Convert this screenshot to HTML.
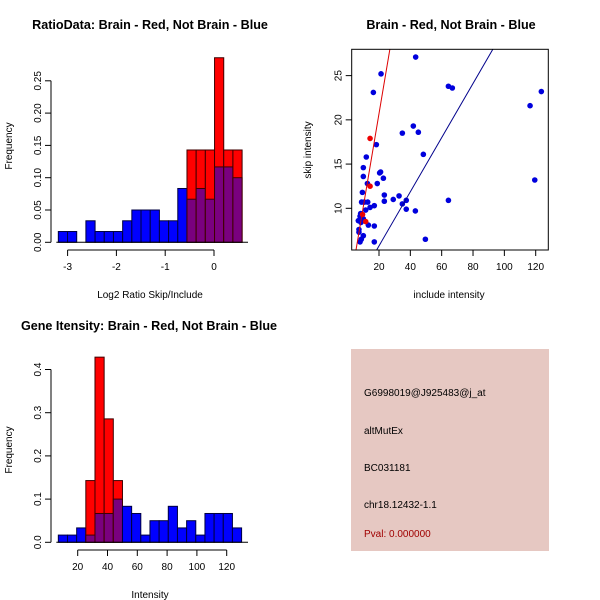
<!DOCTYPE html>
<html><head><meta charset="utf-8"><style>
body{margin:0;background:#fff}
svg{display:block;font-family:"Liberation Sans",sans-serif}
</style></head><body>
<svg id="s" width="600" height="600" viewBox="0 0 600 600">
<rect width="600" height="600" fill="#fff"/>
<text x="150" y="29" font-size="12.6" font-weight="bold" text-anchor="middle">RatioData: Brain - Red, Not Brain - Blue</text>
<text x="451" y="29" font-size="12.6" font-weight="bold" text-anchor="middle">Brain - Red, Not Brain - Blue</text>
<text x="149" y="330" font-size="12.6" font-weight="bold" text-anchor="middle">Gene Itensity: Brain - Red, Not Brain - Blue</text>
<text x="150" y="298" font-size="10" text-anchor="middle">Log2 Ratio Skip/Include</text>
<text x="12" y="146" font-size="10" text-anchor="middle" transform="rotate(-90 12 146)">Frequency</text>
<text x="449" y="298" font-size="10" text-anchor="middle">include intensity</text>
<text x="311" y="150" font-size="10" text-anchor="middle" transform="rotate(-90 311 150)">skip intensity</text>
<text x="150" y="598" font-size="10" text-anchor="middle">Intensity</text>
<text x="12" y="450" font-size="10" text-anchor="middle" transform="rotate(-90 12 450)">Frequency</text>
<rect x="351" y="349" width="198" height="202" fill="#e6c8c2"/>
<g font-size="10">
<text x="364" y="396">G6998019@J925483@j_at</text>
<text x="364" y="434">altMutEx</text>
<text x="364" y="471">BC031181</text>
<text x="364" y="508">chr18.12432-1.1</text>
<text x="364" y="537" fill="#a00000">Pval: 0.000000</text>
</g>
</svg>
<script>
// Ratio histogram data
const ratioStart = -3.19;
const ratioWidth = 0.1883;
const ratioBlue = [0.0167,0.0167,0,0.0333,0.0167,0.0167,0.0167,0.0333,0.05,0.05,0.05,0.0333,0.0333,0.0833,0.0667,0.0833,0.0667,0.1167,0.1167,0.1];
const ratioRed = [0,0,0,0,0,0,0,0,0,0,0,0,0,0,0.1429,0.1429,0.1429,0.2857,0.1429,0.1429];
const ratioXTicks = [-3,-2,-1,0];
const ratioYTicks = ["0.00","0.05","0.10","0.15","0.20","0.25"];
// Intensity histogram data
const intStart = 7;
const intWidth = 6.15;
const intBlue = [0.0167,0.0167,0.0333,0.0167,0.0667,0.0667,0.1,0.0833,0.0667,0.0167,0.05,0.05,0.0833,0.0333,0.05,0.0167,0.0667,0.0667,0.0667,0.0333];
const intRed = [0,0,0,0.1429,0.4286,0.2857,0.1429,0,0,0,0,0,0,0,0,0,0,0,0,0];
const intXTicks = [20,40,60,80,100,120];
const intYTicks = ["0.0","0.1","0.2","0.3","0.4"];
// Scatter data
const blueX = [21.3,43.4,16.4,64.3,66.8,116.4,123.6,41.9,45.1,34.9,18.3,48.3,11.9,10,10,20.4,21,22.8,18.9,12.6,119.4,9.4,23.4,32.8,29.1,37.4,64.3,23.4,34.9,17,14.3,8.9,10.6,12.8,11.5,37.4,43.2,8.3,7.9,10,6.8,8.5,13.2,17,7.2,7.2,10,8.7,7.9,17,49.6];
const blueY = [25.2,27.1,23.1,23.8,23.6,21.6,23.2,19.3,18.6,18.5,17.2,16.1,15.8,14.6,13.6,14,14.1,13.4,12.8,12.8,13.2,11.8,11.5,11.4,11,10.9,10.9,10.8,10.5,10.3,10.1,10.7,10.7,10.7,9.8,9.9,9.7,9.4,9.1,8.8,8.6,8.4,8.1,8,7.6,7.3,6.9,6.5,6.2,6.2,6.5];
const redX = [14.3,14.3,11.5,9.5];
const redY = [17.9,12.5,8.5,9.3];
const redLine = [1.05,-0.3];   // slope, intercept
const blueLine = [0.306,-0.37];
const scXTicks = [20,40,60,80,100,120];
const scYTicks = [10,15,20,25];

const s = document.getElementById('s');
const NS = 'http://www.w3.org/2000/svg';
function el(tag, attrs, parent){const e=document.createElementNS(NS,tag);for(const k in attrs)e.setAttribute(k,attrs[k]);(parent||s).appendChild(e);return e;}

function hist(o){
  const sx=v=>o.x0+(v-o.v0)*o.kx, sy=v=>o.y0-v*o.ky;
  o.red.forEach((r,i)=>{
    const a=o.start+i*o.width,b=a+o.width;
    const bl=o.blue[i];
    if(r>0){
      const e=el('rect',{x:sx(a),y:sy(r),width:sx(b)-sx(a),height:sy(0)-sy(r),fill:'#ff0000',stroke:'#400000','stroke-width':1});
      
      
    }
    if(bl>0){
      const e=el('rect',{x:sx(a),y:sy(bl),width:sx(b)-sx(a),height:sy(0)-sy(bl),fill:r>0?'#7a007f':'#0000ff',stroke:r>0?'#400000':'#000040','stroke-width':1});
      
      
    }
  });
  const ya=el('line',{x1:o.axX,x2:o.axX,y1:sy(0),y2:sy(parseFloat(o.yTicks[o.yTicks.length-1])),stroke:'#000'});
  
  
  o.yTicks.forEach(t=>{const y=sy(parseFloat(t));el('line',{x1:o.axX-6,x2:o.axX,y1:y,y2:y,stroke:'#000'});
    const tx=el('text',{x:o.axX-10,y:y,'font-size':10,'text-anchor':'middle',transform:`rotate(-90 ${o.axX-10} ${y})`});tx.textContent=t;
    
    });
  const xa=el('line',{x1:sx(o.xTicks[0]),x2:sx(o.xTicks[o.xTicks.length-1]),y1:o.axY,y2:o.axY,stroke:'#000'});
  
  
  o.xTicks.forEach(t=>{const x=sx(t);el('line',{x1:x,x2:x,y1:o.axY,y2:o.axY+6,stroke:'#000'});
    const tx=el('text',{x:x,y:o.axY+20,'font-size':10,'text-anchor':'middle'});tx.textContent=t;
    
    });
  el('line',{x1:sx(o.start)-2,x2:o.xEnd,y1:sy(0),y2:sy(0),stroke:'#000'});
}
hist({start:ratioStart,width:ratioWidth,blue:ratioBlue,red:ratioRed,xTicks:ratioXTicks,yTicks:ratioYTicks,
  v0:0,x0:214,kx:48.8,y0:242.3,ky:646,axX:51,axY:250,xEnd:248});
hist({start:intStart,width:intWidth,blue:intBlue,red:intRed,xTicks:intXTicks,yTicks:intYTicks,
  v0:20,x0:77.7,kx:1.49,y0:542.3,ky:432,axX:51,axY:550,xEnd:248});

// scatter
(function(){
  const L=351.7,R=548.3,T=49.3,B=250;
  const sx=v=>379+(v-20)*1.567, sy=v=>208.3-(v-10)*8.845;
  const cp=el('clipPath',{id:'cp'});el('rect',{x:L,y:T,width:R-L,height:B-T},cp);
  const g=el('g',{'clip-path':'url(#cp)'});
  
  
  blueX.forEach((x,i)=>{const c=el('circle',{cx:sx(x),cy:sy(blueY[i]),r:2.8,fill:'#0000dd'},g);
    
    });
  redX.forEach((x,i)=>{const c=el('circle',{cx:sx(x),cy:sy(redY[i]),r:2.8,fill:'#ee0000'},g);
    
    });
  [[redLine,'#dd0000','red-fit-line'],[blueLine,'#00008b','blue-fit-line']].forEach(([ln,col,nm])=>{
    const x1=0,x2=140;const l=el('line',{x1:sx(x1),y1:sy(ln[0]*x1+ln[1]),x2:sx(x2),y2:sy(ln[0]*x2+ln[1]),stroke:col,'stroke-width':1},g);
    
    });
  el('rect',{x:L,y:T,width:R-L,height:B-T,fill:'none',stroke:'#000'});
  scXTicks.forEach(t=>{const x=sx(t);el('line',{x1:x,x2:x,y1:B,y2:B+6,stroke:'#000'});
    const tx=el('text',{x:x,y:B+20,'font-size':10,'text-anchor':'middle'});tx.textContent=t;
    
    });
  scYTicks.forEach(t=>{const y=sy(t);el('line',{x1:L-6,x2:L,y1:y,y2:y,stroke:'#000'});
    const tx=el('text',{x:L-10,y:y,'font-size':10,'text-anchor':'middle',transform:`rotate(-90 ${L-10} ${y})`});tx.textContent=t;
    
    });
})();
</script>
</body></html>
